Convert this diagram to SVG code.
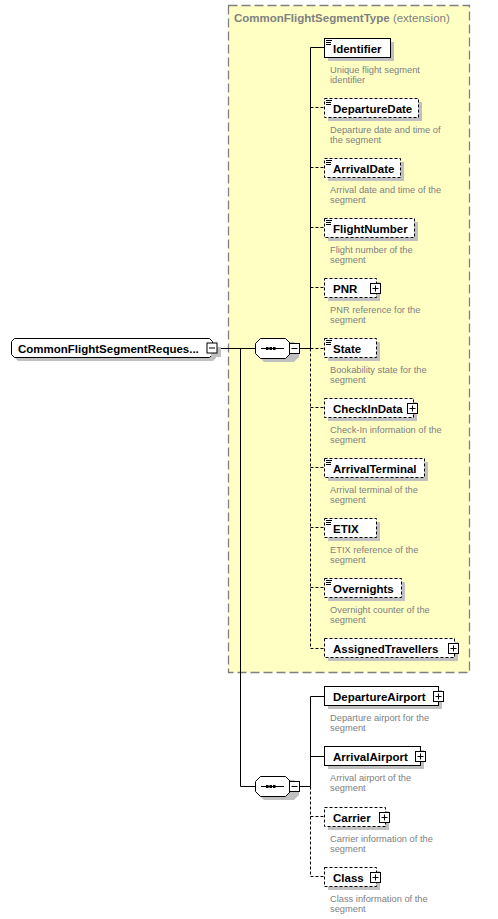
<svg xmlns="http://www.w3.org/2000/svg" width="498" height="919" viewBox="0 0 498 919">
<style>
.bg{fill:#fff}
.ext{fill:#ffffc4;stroke:#808080;stroke-width:1.3;stroke-dasharray:9,4}
.sh{fill:#c0c0c0}
.box{fill:#fff;stroke:#000;stroke-width:1}
.opt{fill:#fff;stroke:#000;stroke-width:1;stroke-dasharray:3,2}
.ico{stroke:#000;stroke-width:1;fill:none}
.name{font-family:"Liberation Sans",Arial,sans-serif;font-size:11.5px;font-weight:bold;fill:#000}
.doc{font-family:"Liberation Sans",Arial,sans-serif;font-size:9.3px;fill:#808080}
.title{font-family:"Liberation Sans",Arial,sans-serif;font-size:11.5px;fill:#808080}
.ln{stroke:#000;stroke-width:1;fill:none}
.dl{stroke:#000;stroke-width:1;fill:none;stroke-dasharray:3,2}
.btn{fill:#fff;stroke:#000;stroke-width:1}
</style>
<defs>
<g id="plus"><rect class="btn" x="0.5" y="0.5" width="10" height="10"/><path class="ico" d="M2.5 5.5h6M5.5 2.5v6"/></g>
<g id="minus"><rect class="btn" x="0.5" y="0.5" width="10" height="10"/><path class="ico" d="M2.5 5.5h6"/></g>
<path id="icon" class="ico" d="M2 2.5h6M2 4.5h5M2 6.5h5"/>
</defs>
<rect class="bg" x="0" y="0" width="498" height="919"/>

<g id="ext-CommonFlightSegmentType">
<rect class="ext" x="228.5" y="5.5" width="241" height="667"/>
<text class="title" x="234" y="22"><tspan font-weight="bold">CommonFlightSegmentType</tspan> (extension)</text>
</g>

<g id="connectors">
<path class="ln" d="M217 348.5H255M240.5 348.5V786.5H255"/>
<path class="ln" d="M300 348.5H310.5M310.5 47.5V348.5M310.5 47.5H324"/>
<path class="dl" d="M310.5 348.5V648.5"/>
<path class="dl" d="M310.5 107.5H324M310.5 167.5H324M310.5 227.5H324M310.5 287.5H324M310.5 348.5H324M310.5 407.5H324M310.5 467.5H324M310.5 527.5H324M310.5 587.5H324M310.5 648.5H324"/>
<path class="ln" d="M300 786.5H310.5M310.5 696.5V786.5M310.5 696.5H324M310.5 756.5H324"/>
<path class="dl" d="M310.5 786.5V876.5M310.5 816.5H324M310.5 876.5H324"/>
</g>

<g id="root">
<polygon class="sh" points="18,342 213,342 216,345 216,358 213,361 18,361 15,358 15,345"/>
<polygon class="box" points="14.5,338.5 209.5,338.5 212.5,341.5 212.5,354.5 209.5,357.5 14.5,357.5 11.5,354.5 11.5,341.5"/>
<text class="name" x="18" y="352.5">CommonFlightSegmentReques...</text>
<rect class="sh" x="211" y="347" width="10" height="10"/>
<use href="#minus" x="206.5" y="342.5"/>
</g>

<g id="seq1">
<polygon class="sh" points="264,342 294,342 299,347 299,357 294,362 264,362 259,357 259,347"/>
<polygon class="box" points="260.5,338.5 285.5,338.5 290.5,343.5 290.5,353.5 285.5,358.5 260.5,358.5 255.5,353.5 255.5,343.5"/>
<path class="ico" d="M261 348.5H284"/>
<rect x="266" y="347" width="2.5" height="3" fill="#000"/><rect x="269.5" y="347" width="2.5" height="3" fill="#000"/><rect x="273" y="347" width="2.5" height="3" fill="#000"/>
<use href="#minus" x="289" y="343"/>
</g>

<g id="seq2">
<polygon class="sh" points="264,780 294,780 299,785 299,795 294,800 264,800 259,795 259,785"/>
<polygon class="box" points="260.5,776.5 285.5,776.5 290.5,781.5 290.5,791.5 285.5,796.5 260.5,796.5 255.5,791.5 255.5,781.5"/>
<path class="ico" d="M261 786.5H284"/>
<rect x="266" y="785" width="2.5" height="3" fill="#000"/><rect x="269.5" y="785" width="2.5" height="3" fill="#000"/><rect x="273" y="785" width="2.5" height="3" fill="#000"/>
<use href="#minus" x="289" y="781"/>
</g>

<g id="Identifier">
<rect class="sh" x="328" y="42" width="66" height="19"/>
<rect class="box" x="324.5" y="38.5" width="66" height="19"/>
<use href="#icon" x="324" y="38"/>
<text class="name" x="333" y="52.5">Identifier</text>
<text class="doc" x="330" y="72.5">Unique flight segment</text>
<text class="doc" x="330" y="82.5">identifier</text>
</g>

<g id="DepartureDate">
<rect class="sh" x="328" y="102" width="94" height="19"/>
<rect class="opt" x="324.5" y="98.5" width="94" height="19"/>
<use href="#icon" x="324" y="98"/>
<text class="name" x="333" y="112.5">DepartureDate</text>
<text class="doc" x="330" y="132.5">Departure date and time of</text>
<text class="doc" x="330" y="142.5">the segment</text>
</g>

<g id="ArrivalDate">
<rect class="sh" x="328" y="162" width="76" height="19"/>
<rect class="opt" x="324.5" y="158.5" width="76" height="19"/>
<use href="#icon" x="324" y="158"/>
<text class="name" x="333" y="172.5">ArrivalDate</text>
<text class="doc" x="330" y="192.5">Arrival date and time of the</text>
<text class="doc" x="330" y="202.5">segment</text>
</g>

<g id="FlightNumber">
<rect class="sh" x="328" y="222" width="90" height="19"/>
<rect class="opt" x="324.5" y="218.5" width="90" height="19"/>
<use href="#icon" x="324" y="218"/>
<text class="name" x="333" y="232.5">FlightNumber</text>
<text class="doc" x="330" y="252.5">Flight number of the</text>
<text class="doc" x="330" y="262.5">segment</text>
</g>

<g id="PNR">
<rect class="sh" x="328" y="282" width="52" height="19"/>
<rect class="opt" x="324.5" y="278.5" width="52" height="19"/>
<text class="name" x="333" y="292.5">PNR</text>
<use href="#plus" x="370" y="283"/>
<text class="doc" x="330" y="312.5">PNR reference for the</text>
<text class="doc" x="330" y="322.5">segment</text>
</g>

<g id="State">
<rect class="sh" x="328" y="342" width="52" height="19"/>
<rect class="opt" x="324.5" y="338.5" width="52" height="19"/>
<use href="#icon" x="324" y="338"/>
<text class="name" x="333" y="352.5">State</text>
<text class="doc" x="330" y="372.5">Bookability state for the</text>
<text class="doc" x="330" y="382.5">segment</text>
</g>

<g id="CheckInData">
<rect class="sh" x="328" y="402" width="89" height="19"/>
<rect class="opt" x="324.5" y="398.5" width="89" height="19"/>
<text class="name" x="333" y="412.5">CheckInData</text>
<use href="#plus" x="407" y="403"/>
<text class="doc" x="330" y="432.5">Check-In information of the</text>
<text class="doc" x="330" y="442.5">segment</text>
</g>

<g id="ArrivalTerminal">
<rect class="sh" x="328" y="462" width="100" height="19"/>
<rect class="opt" x="324.5" y="458.5" width="100" height="19"/>
<use href="#icon" x="324" y="458"/>
<text class="name" x="333" y="472.5">ArrivalTerminal</text>
<text class="doc" x="330" y="492.5">Arrival terminal of the</text>
<text class="doc" x="330" y="502.5">segment</text>
</g>

<g id="ETIX">
<rect class="sh" x="328" y="522" width="52" height="19"/>
<rect class="opt" x="324.5" y="518.5" width="52" height="19"/>
<use href="#icon" x="324" y="518"/>
<text class="name" x="333" y="532.5">ETIX</text>
<text class="doc" x="330" y="552.5">ETIX reference of the</text>
<text class="doc" x="330" y="562.5">segment</text>
</g>

<g id="Overnights">
<rect class="sh" x="328" y="582" width="77" height="19"/>
<rect class="opt" x="324.5" y="578.5" width="77" height="19"/>
<use href="#icon" x="324" y="578"/>
<text class="name" x="333" y="592.5">Overnights</text>
<text class="doc" x="330" y="612.5">Overnight counter of the</text>
<text class="doc" x="330" y="622.5">segment</text>
</g>

<g id="AssignedTravellers">
<rect class="sh" x="328" y="642" width="130" height="19"/>
<rect class="opt" x="324.5" y="638.5" width="130" height="19"/>
<text class="name" x="333" y="652.5">AssignedTravellers</text>
<use href="#plus" x="448" y="643"/>
</g>

<g id="DepartureAirport">
<rect class="sh" x="328" y="690" width="114" height="19"/>
<rect class="box" x="324.5" y="686.5" width="114" height="19"/>
<text class="name" x="333" y="700.5">DepartureAirport</text>
<use href="#plus" x="433" y="691"/>
<text class="doc" x="330" y="720.5">Departure airport for the</text>
<text class="doc" x="330" y="730.5">segment</text>
</g>

<g id="ArrivalAirport">
<rect class="sh" x="328" y="750" width="96" height="19"/>
<rect class="box" x="324.5" y="746.5" width="96" height="19"/>
<text class="name" x="333" y="760.5">ArrivalAirport</text>
<use href="#plus" x="415" y="751"/>
<text class="doc" x="330" y="780.5">Arrival airport of the</text>
<text class="doc" x="330" y="790.5">segment</text>
</g>

<g id="Carrier">
<rect class="sh" x="328" y="811" width="61" height="19"/>
<rect class="opt" x="324.5" y="807.5" width="61" height="19"/>
<text class="name" x="333" y="821.5">Carrier</text>
<use href="#plus" x="379" y="812"/>
<text class="doc" x="330" y="841.5">Carrier information of the</text>
<text class="doc" x="330" y="851.5">segment</text>
</g>

<g id="Class">
<rect class="sh" x="328" y="871" width="52" height="19"/>
<rect class="opt" x="324.5" y="867.5" width="52" height="19"/>
<text class="name" x="333" y="881.5">Class</text>
<use href="#plus" x="370" y="872"/>
<text class="doc" x="330" y="901.5">Class information of the</text>
<text class="doc" x="330" y="911.5">segment</text>
</g>
</svg>
